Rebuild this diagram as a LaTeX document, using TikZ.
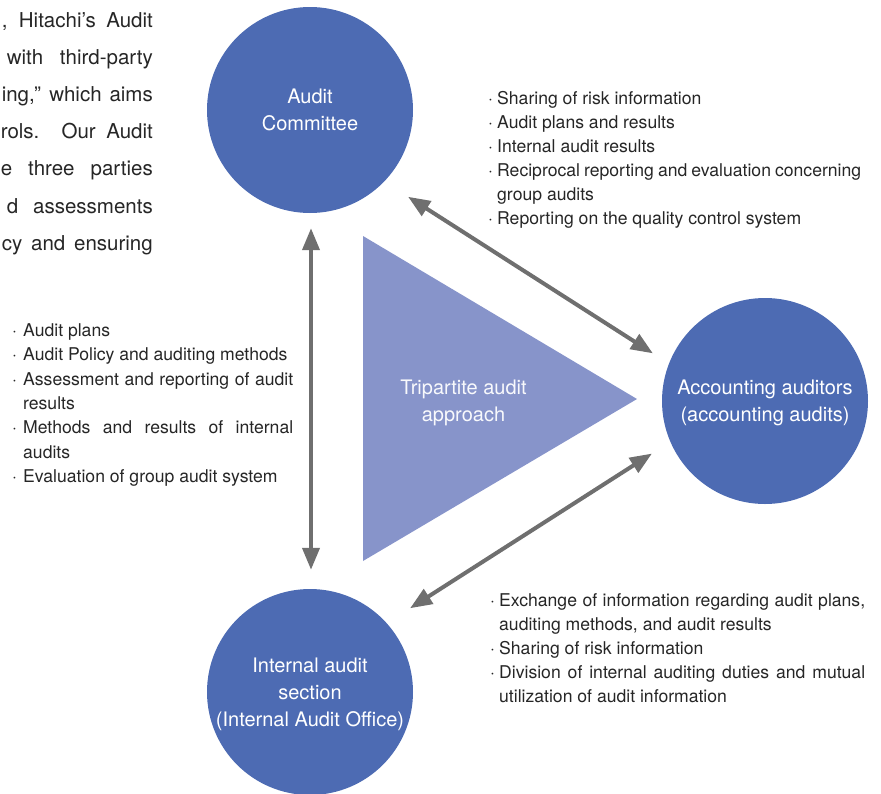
\documentclass[tikz,border=0pt]{standalone}
\usepackage{fontspec}
\setmainfont{TeX Gyre Heros}
\usetikzlibrary{arrows.meta}
\definecolor{circblue}{HTML}{4D6BB3}
\definecolor{triblue}{HTML}{8794CA}
\definecolor{arrgray}{HTML}{6F6F6F}
\definecolor{txt}{HTML}{262626}
\newcommand\bul[1]{\makebox[#1][l]{·}}
\begin{document}
\begin{tikzpicture}[x=1pt,y=-1pt,
  party/.style={circle, fill=circblue, minimum size=206pt, inner sep=0pt, text=white,
    align=center, font=\fontsize{20}{27}\selectfont, text depth=0pt},
  tritext/.style={inner sep=0pt, text=white!94!triblue, align=center,
    font=\fontsize{20}{27}\selectfont, text depth=0pt},
  arr/.style={draw=arrgray, line width=4pt,
    {Triangle[length=22pt,width=17pt]}-{Triangle[length=22pt,width=17pt]}},
  listtext/.style={anchor=base west, inner sep=0pt, text=txt},
  introtext/.style={anchor=base east, inner sep=0pt, text=txt}
]
\useasboundingbox (0,0) rectangle (881,793);
\clip (0,0) rectangle (881,793);

% intro paragraph (cut at the left edge)
\node[introtext] (intro) at (153,27) {\parbox[t]{170pt}{\raggedleft\fontsize{20.5}{37.2}\selectfont
\makebox[151pt][s]{, Hitachi’s Audit}\\
\makebox[146pt][s]{with third-party}\\
\makebox[151pt][s]{ing,” which aims}\\
\makebox[152pt][s]{rols. Our Audit}\\
\makebox[152pt][s]{e three parties}\\
\makebox[146pt][s]{d assessments}\\
\makebox[151pt][s]{cy and ensuring}}};

% central triangle
\fill[triblue] (363,236) -- (637,399) -- (363,561) -- cycle;
\node[tritext] (tri) at (463.5,401) {Tripartite audit\\approach};

% the three parties
\node[party] (ac)  at (310,110) {Audit\\Committee};
\node[party] (acc) at (765,401) {Accounting auditors\\(accounting audits)};
\node[party] (ia)  at (310,692) {Internal audit\\section\\(Internal Audit Office)};

% connectors
\draw[arr, shorten <=15pt, shorten >=19pt] ([xshift=1pt]ac.south) -- ([xshift=1pt]ia.north);
\draw[arr, shorten <=129.5pt, shorten >=120pt] ([shift={(-11,17)}]ac.center) -- ([shift={(-11,17)}]acc.center);
\draw[arr, shorten <=129.5pt, shorten >=123.5pt] ([shift={(-9,-14)}]ia.center) -- ([shift={(-9,-14)}]acc.center);

% lists
\node[listtext] (ltr) at (488,104.5) {\parbox[t]{380pt}{\fontsize{17.6}{23.9}\selectfont
\bul{9pt}Sharing of risk information\\
\bul{9pt}Audit plans and results\\
\bul{9pt}Internal audit results\\
\bul{9pt}\makebox[364pt][s]{Reciprocal reporting and evaluation concerning}\\
\hspace*{9pt}group audits\\
\bul{9pt}Reporting on the quality control system}};

\node[listtext] (ll) at (12,336.5) {\parbox[t]{290pt}{\fontsize{17.6}{24.3}\selectfont
\bul{11pt}Audit plans\\
\bul{11pt}Audit Policy and auditing methods\\
\bul{11pt}\makebox[270pt][s]{Assessment and reporting of audit}\\
\hspace*{11pt}results\\
\bul{11pt}\makebox[270pt][s]{Methods and results of internal}\\
\hspace*{11pt}audits\\
\bul{11pt}Evaluation of group audit system}};

\node[listtext] (lbr) at (490,606.5) {\parbox[t]{385pt}{\fontsize{17.6}{23.9}\selectfont
\bul{9pt}\makebox[366pt][s]{Exchange of information regarding audit plans,}\\
\hspace*{9pt}auditing methods, and audit results\\
\bul{9pt}Sharing of risk information\\
\bul{9pt}\makebox[366pt][s]{Division of internal auditing duties and mutual}\\
\hspace*{9pt}utilization of audit information}};
\end{tikzpicture}
\end{document}
